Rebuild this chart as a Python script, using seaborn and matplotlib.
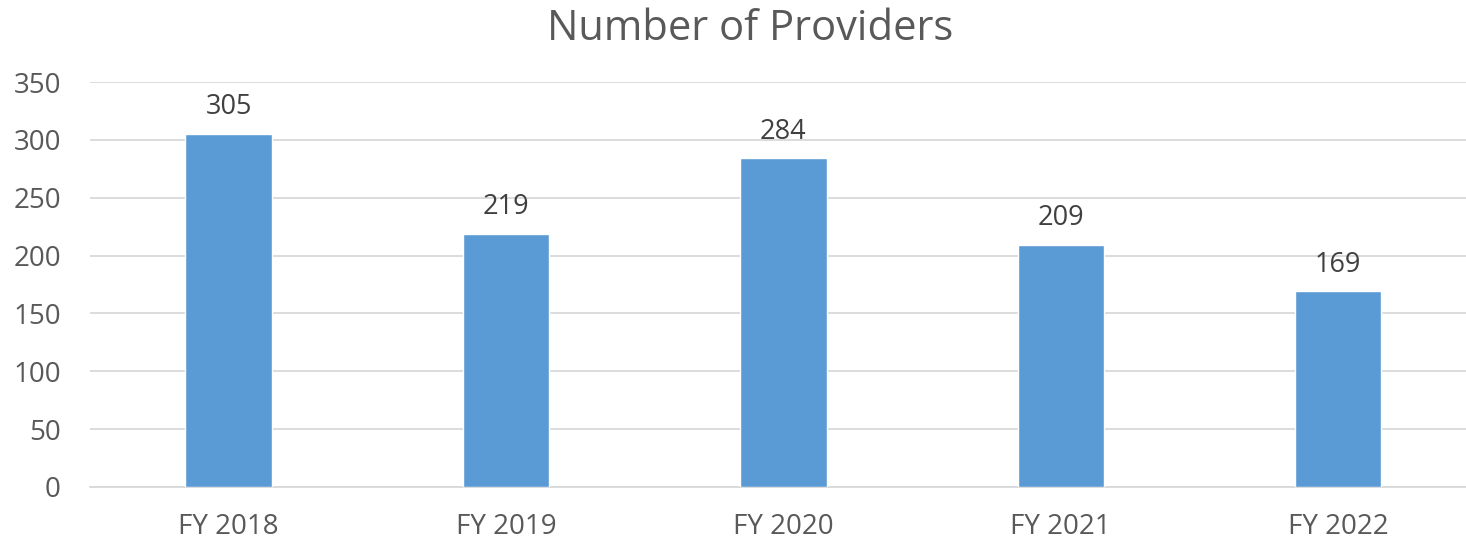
import matplotlib
matplotlib.use('Agg')
import seaborn as sns
import matplotlib.pyplot as plt
import pandas as pd

# data
years = ['FY 2018', 'FY 2019', 'FY 2020', 'FY 2021', 'FY 2022']
providers = [305, 219, 284, 209, 169]

df = pd.DataFrame({'year': years, 'providers': providers})

sns.set_theme(style='white')
plt.rcParams['font.family'] = ['Open Sans', 'DejaVu Sans']
text_color = '#595959'

fig = plt.figure(figsize=(14.66, 5.42), dpi=100)
# plot area runs slightly past the right edge of the image, like the original
ax = fig.add_axes([0.0614, 0.1015, 0.946, 0.7472])

sns.barplot(x='year', y='providers', data=df, color='#5B9BD5', width=0.312,
            saturation=1, ax=ax, zorder=3)

for i, v in enumerate(providers):
    ax.text(i, v + 11, str(v), ha='center', va='bottom', fontsize=19.5, color='#404040')

ax.set_xlim(-0.5, 4.5)
ax.set_ylim(0, 350)
ax.set_yticks(range(0, 351, 50))
ax.yaxis.grid(True, color='#D9D9D9', linewidth=1.3, zorder=0)
ax.set_axisbelow(True)
ax.tick_params(axis='y', labelsize=20, colors=text_color, length=0, pad=21)
ax.tick_params(axis='x', labelsize=20, colors=text_color, length=0, pad=19)
ax.set_xlabel('')
ax.set_ylabel('')
for name, spine in ax.spines.items():
    if name == 'bottom':
        spine.set_color('#D9D9D9')
        spine.set_linewidth(1.3)
    else:
        spine.set_visible(False)

fig.text(0.512, 0.985, 'Number of Providers', fontsize=30, color=text_color,
         ha='center', va='top')

fig.savefig('out.png', dpi=100)
